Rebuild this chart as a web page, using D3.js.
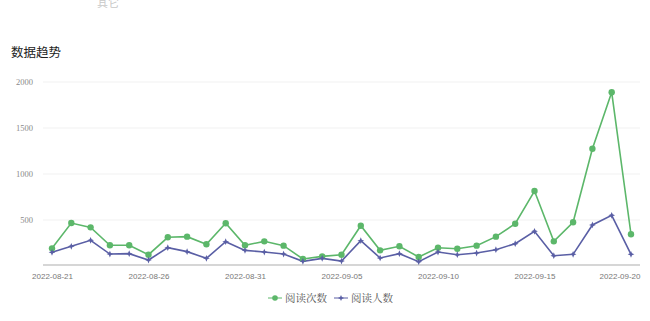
<!DOCTYPE html>
<html>
<head>
<meta charset="utf-8">
<script src="https://cdn.jsdelivr.net/npm/d3@7"></script>
<style>
  body { margin:0; background:#fff; }
  svg { display:block; }
</style>
</head>
<body>
<div class="chart"></div>
<script>
const dates = d3.timeDays(new Date(2022,7,21), new Date(2022,8,21));
const readCount = [192,467,420,225,225,123,312,319,236,464,225,268,221,76,105,123,438,170,214,98,199,188,221,319,460,815,268,475,1275,1888,345];
const readUsers = [149,214,279,130,134,65,199,156,83,264,170,152,130,51,83,54,275,87,134,47,152,123,141,177,243,377,112,127,446,551,127];
const yTicks = [500,1000,1500,2000];
const seriesNames = ['阅读次数','阅读人数'];
const colors = ['#5cb76a','#5a5fa5'];

const W = 650, H = 321;
const margin = { top:82, left:43, right:10, bottom:55 };
const iH = 266 - margin.top;

const svg = d3.select('.chart').append('svg').attr('width',W).attr('height',H);
const fmt = d3.timeFormat('%Y-%m-%d');

svg.append('text').attr('x',97).attr('y',7).attr('font-size',11)
  .attr('font-family','Noto Sans CJK SC').attr('fill','#c8c8c8').text('其它');
svg.append('text').attr('x',11).attr('y',57).attr('font-size',12.5)
  .attr('font-family','Noto Sans CJK SC').attr('fill','#222').text('数据趋势');

const x = d3.scaleTime().domain([dates[0], dates[dates.length-1]]).range([9, 588]);
const y = d3.scaleLinear().domain([0,2000]).range([iH,0]);

const g = svg.append('g').attr('transform',`translate(${margin.left},${margin.top})`);

// 4-point star marker
const star4 = {
  draw(ctx, size) {
    const r = Math.sqrt(size) * 0.9, q = r * 0.3;
    ctx.moveTo(0,-r); ctx.lineTo(q,-q); ctx.lineTo(r,0); ctx.lineTo(q,q);
    ctx.lineTo(0,r); ctx.lineTo(-q,q); ctx.lineTo(-r,0); ctx.lineTo(-q,-q);
    ctx.closePath();
  }
};

// grid
g.selectAll('.grid').data(yTicks).enter().append('line')
  .attr('x1',0).attr('x2',597)
  .attr('y1',d => y(d)).attr('y2',d => y(d))
  .attr('stroke','#f1f1f1');

const yAxis = g.append('g').call(d3.axisLeft(y).tickValues(yTicks).tickFormat(d3.format('d')).tickSize(0).tickPadding(10));
yAxis.select('.domain').remove();
yAxis.selectAll('text').attr('font-family','Liberation Serif').attr('font-size',8.5).attr('fill','#8a8a8a');

const xAxis = g.append('g').attr('transform',`translate(0,${iH-1})`)
  .call(d3.axisBottom(x).tickValues(dates.filter((d,i) => i%5===0)).tickFormat(fmt).tickSize(0).tickPadding(8));
xAxis.select('.domain').attr('d','M0,0H597').attr('stroke','#c8c8c8').attr('stroke-width',1.5);
xAxis.selectAll('text').attr('font-family','Liberation Sans').attr('font-size',8).attr('fill','#777');
xAxis.selectAll('.tick:last-of-type text').attr('text-anchor','end').attr('dx',9);

const line = d3.line().x((d,i) => x(dates[i])).y(d => y(d));

[readCount, readUsers].forEach((s,k) => {
  g.append('path').datum(s).attr('d',line).attr('fill','none')
    .attr('stroke',colors[k]).attr('stroke-width',1.6);
});

g.selectAll('.c1').data(readCount).enter().append('circle')
  .attr('cx',(d,i) => x(dates[i])).attr('cy',d => y(d)).attr('r',3.2).attr('fill',colors[0]);

g.selectAll('.c2').data(readUsers).enter().append('path')
  .attr('transform',(d,i) => `translate(${x(dates[i])},${y(d)})`)
  .attr('d',d3.symbol().type(star4).size(14)).attr('fill',colors[1]);

// legend
const leg = svg.append('g').attr('transform','translate(268,298)');
[0,66].forEach((lx,k) => {
  const lg = leg.append('g').attr('transform',`translate(${lx},0)`);
  lg.append('line').attr('x1',0).attr('x2',14).attr('stroke',colors[k]).attr('stroke-width',1);
  if (k===0) lg.append('circle').attr('cx',7).attr('r',2.8).attr('fill',colors[k]);
  else lg.append('path').attr('transform','translate(7,0)').attr('d',d3.symbol().type(star4).size(12)).attr('fill',colors[k]);
  lg.append('text').attr('x',17).attr('y',4).attr('font-size',10.5)
    .attr('font-family','Noto Serif CJK SC, Noto Sans CJK SC').attr('fill','#555').text(seriesNames[k]);
});
</script>
</body>
</html>
